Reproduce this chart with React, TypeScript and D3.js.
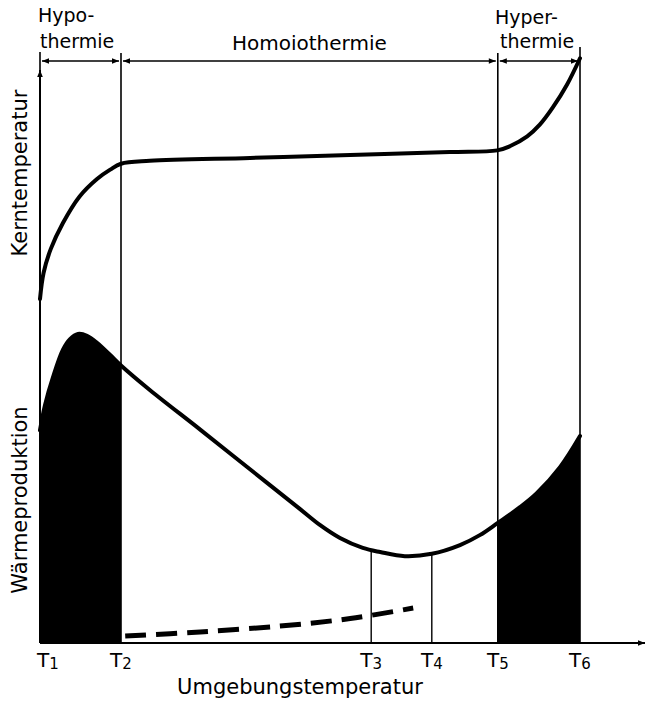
import React from 'react';
import * as d3 from 'd3';

// Umgebungstemperatur (0..100 abstrakt), Positionen der Schwellen T1..T6
const tickNames = ['1', '2', '3', '4', '5', '6'];
const tickValues = [0, 13.5, 55.2, 65.3, 76.3, 90];

// Kerntemperatur-Kurve [x, y]
const kernTemp: [number, number][] = [
  [0, 59], [0.6, 63.5], [1.8, 67.6], [3.8, 72.0], [6.6, 76.6], [9.5, 79.6],
  [11.7, 81.2], [13.5, 82.2], [18.3, 82.7], [35, 83.2], [51.7, 83.7], [68.3, 84.2],
  [76.2, 84.5], [78.3, 85.2], [81.2, 86.9], [83.3, 88.9], [85.5, 91.9], [87.8, 95.7],
  [90, 100.3],
];

// Wärmeproduktion-Kurve [x, y]
const waermeProd: [number, number][] = [
  [0, 36.5], [0.83, 40.8], [2.17, 45.6], [3.83, 50.3], [5, 52.1], [6.33, 53.0],
  [7.83, 52.7], [9.5, 51.5], [11.7, 49.4], [13.5, 47.6], [18.3, 43.4], [26.7, 36.6],
  [35, 29.8], [43.3, 23.0], [46.7, 20.2], [50, 18.0], [53.8, 16.3], [56.7, 15.6],
  [60.8, 14.9], [65.3, 15.3], [70, 16.8], [73.3, 18.5], [76.3, 20.6], [80, 23.3],
  [82.8, 25.7], [86.7, 30.2], [90, 35.5],
];

// gestrichelte Kurve
const dashed: [number, number][] = [
  [14.2, 1.2], [26.7, 1.9], [40, 2.9], [51.7, 4.2], [62.2, 6.0],
];

// Bereiche oben: [von, bis]
const zones: [number, number][] = [[0, 13.5], [13.5, 76.3], [76.3, 90]];
// schwarz gefüllte Bereiche
const filled: [number, number][] = [[0, 13.5], [76.3, 90]];

const font = '"DejaVu Sans", sans-serif';

const App = () => {
  const width = 649, height = 701;
  const x = d3.scaleLinear().domain([0, 100]).range([40, 640]);
  const y = d3.scaleLinear().domain([0, 100]).range([643, 60]);

  const curve = d3.curveCatmullRom.alpha(0.5);
  const line = d3.line<[number, number]>()
    .x(d => x(d[0])).y(d => y(d[1]))
    .curve(curve);
  const area = d3.area<[number, number]>()
    .x(d => x(d[0])).y0(y(0)).y1(d => y(d[1]))
    .curve(curve);

  const yAt = (data: [number, number][], v: number) => {
    const i = d3.bisector((d: [number, number]) => d[0]).left(data, v);
    const a = data[Math.max(0, i - 1)], b = data[Math.min(data.length - 1, i)];
    if (a[0] === b[0]) return a[1];
    return a[1] + (b[1] - a[1]) * (v - a[0]) / (b[0] - a[0]);
  };

  const arrowY = 61;

  return (
    <svg width={width} height={height} style={{position: 'absolute', left: 0, top: 0, background: '#fff'}}
      fontFamily={font}>
      <defs>
        <marker id="ah" viewBox="0 0 10 10" refX="10" refY="5" markerWidth="9" markerHeight="7"
          orient="auto-start-reverse" markerUnits="userSpaceOnUse">
          <path d="M0,1 L10,5 L0,9 Z" fill="#000" />
        </marker>
        {filled.map((f, i) => (
          <clipPath key={i} id={`clip${i}`}>
            <rect x={x(f[0])} y={0} width={x(f[1]) - x(f[0])} height={y(0)} />
          </clipPath>
        ))}
      </defs>
      <rect width={width} height={height} fill="#fff" />

      {/* gefüllte Flächen */}
      {filled.map((f, i) => (
        <path key={i} d={area(waermeProd) || ''} fill="#000" clipPath={`url(#clip${i})`} />
      ))}

      {/* senkrechte Linien */}
      {[1, 4].map(i => (
        <line key={i} x1={x(tickValues[i])} x2={x(tickValues[i])} y1={53} y2={y(0)} stroke="#000" strokeWidth={1.6} />
      ))}
      <line x1={x(tickValues[5])} x2={x(tickValues[5])} y1={47} y2={y(0)} stroke="#000" strokeWidth={1.6} />
      <line x1={x(0)} x2={x(0)} y1={52} y2={72} stroke="#000" strokeWidth={1.6} />
      {[2, 3].map(i => (
        <line key={i} x1={x(tickValues[i])} x2={x(tickValues[i])} y1={y(yAt(waermeProd, tickValues[i]))} y2={y(0)}
          stroke="#000" strokeWidth={1.4} />
      ))}

      {/* Bereichspfeile */}
      {zones.map((z, i) => (
        <line key={i} x1={x(z[0]) + 2} x2={x(z[1]) - 2} y1={arrowY} y2={arrowY} stroke="#000" strokeWidth={1.5}
          markerStart="url(#ah)" markerEnd="url(#ah)" />
      ))}

      {/* Achsen */}
      <line x1={x(0)} x2={x(0)} y1={y(0)} y2={70} stroke="#000" strokeWidth={2} markerEnd="url(#ah)" />
      <line x1={x(0)} x2={x(100) + 5} y1={y(0)} y2={y(0)} stroke="#000" strokeWidth={2} markerEnd="url(#ah)" />

      {/* Kurven */}
      <path d={line(kernTemp) || ''} fill="none" stroke="#000" strokeWidth={4} strokeLinecap="round" />
      <path d={line(waermeProd) || ''} fill="none" stroke="#000" strokeWidth={4} strokeLinecap="round" />
      <path d={line(dashed) || ''} fill="none" stroke="#000" strokeWidth={5} strokeDasharray="21 10" />

      {/* Beschriftung oben */}
      <g fontSize={19} fill="#000">
        <text x={38} y={22}>Hypo-</text>
        <text x={40} y={48}>thermie</text>
        <text x={(x(zones[1][0]) + x(zones[1][1])) / 2} y={50} textAnchor="middle" fontSize={20}>Homoiothermie</text>
        <text x={495} y={24}>Hyper-</text>
        <text x={500} y={48}>thermie</text>
      </g>

      {/* T-Beschriftung */}
      <g fontSize={20} fill="#000">
        {tickValues.map((v, i) => (
          <text key={i} x={i === 0 ? x(v) + 8 : x(v)} y={667} textAnchor="middle">
            T<tspan fontSize={15} dy={2}>{tickNames[i]}</tspan>
          </text>
        ))}
        <text x={300} y={694} textAnchor="middle" fontSize={21}>Umgebungstemperatur</text>
        <text transform={`translate(27,${173}) rotate(-90)`} textAnchor="middle" fontSize={21}>Kerntemperatur</text>
        <text transform={`translate(27,${500}) rotate(-90)`} textAnchor="middle" fontSize={21}>Wärmeproduktion</text>
      </g>
    </svg>
  );
};

export default App;
